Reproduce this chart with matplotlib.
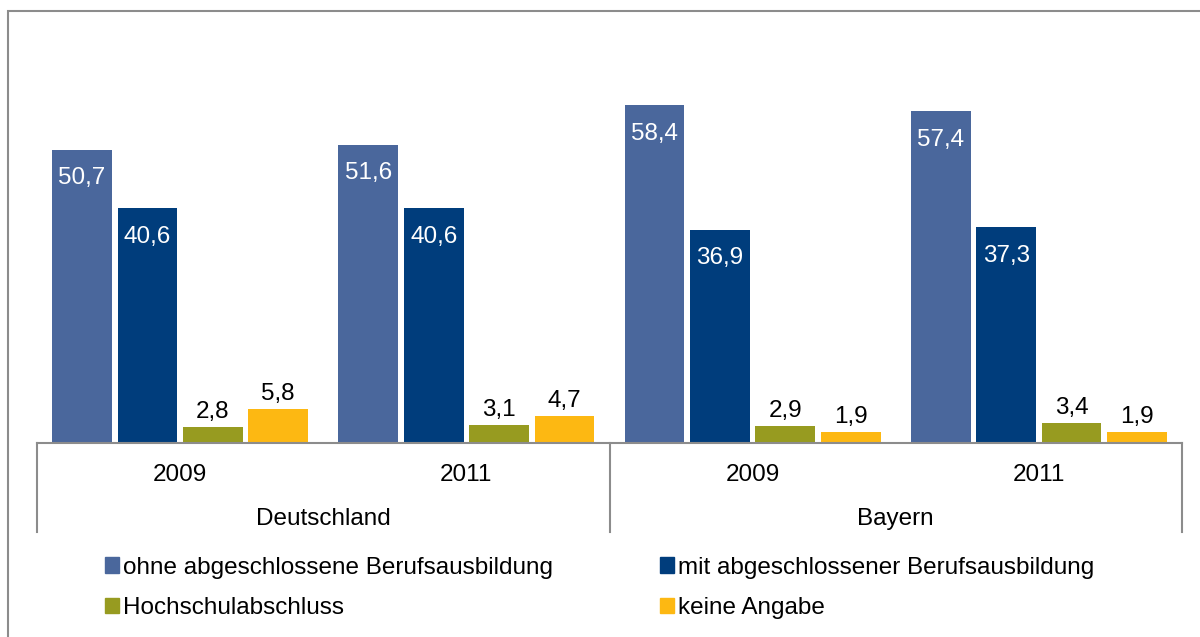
import numpy as np
import matplotlib.pyplot as plt
from matplotlib.patches import Rectangle, Patch

plt.rcParams['font.family'] = ['Liberation Sans', 'DejaVu Sans']

years = ['2009', '2011', '2009', '2011']
regions = ['Deutschland', 'Bayern']
series = ['ohne abgeschlossene Berufsausbildung', 'mit abgeschlossener Berufsausbildung',
          'Hochschulabschluss', 'keine Angabe']
ohne = [50.7, 51.6, 58.4, 57.4]
mit = [40.6, 40.6, 36.9, 37.3]
hochschule = [2.8, 3.1, 2.9, 3.4]
keine = [5.8, 4.7, 1.9, 1.9]
colors = ['#4a679c', '#003d7c', '#979b20', '#fdb812']

W, H = 1200, 637
fs = 17.5
fig = plt.figure(figsize=(12, 6.37), dpi=100)
# grey frame around the chart (open at right and bottom, as in the original)
fig.patches.append(Rectangle((8 / W, -0.05), 1.2, 1 - 11 / H + 0.05, transform=fig.transFigure,
                             fill=False, edgecolor='#8c8c8c', linewidth=1.5))

ax_l, ax_r, base, ymax = 37, 1182, 443, 70
px_per_unit = 5.78
ax_h = ymax * px_per_unit
ax = fig.add_axes([ax_l / W, 1 - base / H, (ax_r - ax_l) / W, ax_h / H])

x = np.arange(len(years))
step, width = 0.2285, 0.209
data = [ohne, mit, hochschule, keine]
for i, vals in enumerate(data):
    pos = x + (i - 1.5) * step
    ax.bar(pos, vals, width, color=colors[i], edgecolor='none')
    for p, v in zip(pos, vals):
        txt = f'{v:.1f}'.replace('.', ',')
        if i < 2:
            ax.annotate(txt, (p, v), xytext=(0, -20.5), textcoords='offset points',
                        ha='center', va='center', color='white', fontsize=fs)
        else:
            ax.annotate(txt, (p, v), xytext=(0, 11), textcoords='offset points',
                        ha='center', va='center', color='black', fontsize=fs)

ax.set_xlim(-0.5, len(years) - 0.5)
ax.set_ylim(0, ymax)
for s in ['top', 'right', 'left']:
    ax.spines[s].set_visible(False)
ax.spines['bottom'].set_color('#8c8c8c')
ax.spines['bottom'].set_linewidth(1.5)
ax.set_yticks([])
ax.set_xticks([])

tr = ax.get_xaxis_transform()
low = -(532 - base) / ax_h
for xv in [-0.5, 1.5, 3.5]:
    ax.plot([xv, xv], [0, low], transform=tr, color='#8c8c8c', lw=1.5, clip_on=False)
for xv, yr in zip(x, years):
    ax.text(xv, -(475 - base) / ax_h, yr, transform=tr, ha='center', va='center', fontsize=fs)
for k, reg in enumerate(regions):
    ax.text(2 * k + 0.5, -(519 - base) / ax_h, reg, transform=tr, ha='center', va='center', fontsize=fs)

handles = [Patch(color=c) for c in colors]
leg_kw = dict(frameon=False, fontsize=fs, handlelength=0.6, handleheight=0.6, handletextpad=0.15,
              labelspacing=0.75, loc='upper left', borderaxespad=0)
fig.legend([handles[0], handles[2]], [series[0], series[2]],
           bbox_to_anchor=(95 / W, 1 - 547 / H), **leg_kw)
fig.legend([handles[1], handles[3]], [series[1], series[3]],
           bbox_to_anchor=(650 / W, 1 - 547 / H), **leg_kw)

fig.savefig('out.png', dpi=100)
